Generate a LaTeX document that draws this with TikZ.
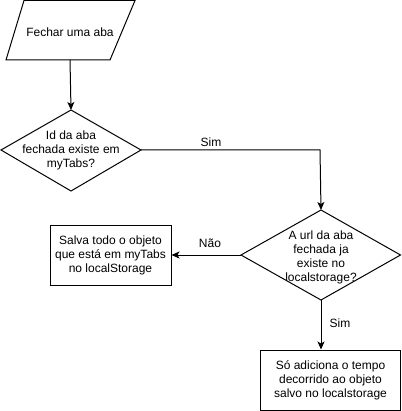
\documentclass[tikz,border=0pt]{standalone}
\usepackage{fontspec}
\setmainfont{Liberation Sans}
\usetikzlibrary{shapes.geometric,arrows.meta}
\begin{document}
\begin{tikzpicture}[x=1pt,y=-1pt,
  every node/.style={font=\fontsize{12}{14}\selectfont, inner sep=0pt, align=center},
  shp/.style={draw, line width=1pt},
  conn/.style={line width=1pt, -{Stealth[length=8pt,width=7pt,inset=2pt]}},
  lbl/.style={font=\fontsize{12}{14}\selectfont}]
\useasboundingbox (0,0) rectangle (401,411);
% parallelogram
\coordinate (p1) at (24,0.5);
\coordinate (p2) at (135,0.5);
\coordinate (p3) at (110,60);
\coordinate (p4) at (6,60);
\draw[shp] (p1) -- (p2) -- (p3) -- (p4) -- cycle;
\node (start) at (70,32) {Fechar uma aba};
\coordinate (startb) at (70,60);
% diamond 1
\coordinate (d1t) at (71,110);
\coordinate (d1r) at (141,150);
\coordinate (d1b) at (71,191);
\coordinate (d1l) at (1,150);
\draw[shp] (d1t) -- (d1r) -- (d1b) -- (d1l) -- cycle;
\node (d1) at (71,150) {Id da aba\\fechada existe em\\myTabs?};
% diamond 2
\coordinate (d2t) at (321,210);
\coordinate (d2r) at (400.5,255);
\coordinate (d2b) at (321,300);
\coordinate (d2l) at (241,255);
\draw[shp] (d2t) -- (d2r) -- (d2b) -- (d2l) -- cycle;
\node (d2) at (321,257) {A url da aba\\fechada ja\\existe no\\localstorage?};
% box left
\node[shp, minimum width=121pt, minimum height=60pt] (b1) at (110.5,255) {Salva todo o objeto\\que está em myTabs\\no localStorage};
% box bottom
\node[shp, minimum width=140pt, minimum height=60pt] (b2) at (330.5,380) {Só adiciona o tempo\\decorrido ao objeto\\salvo no localstorage};
% connectors
\draw[conn] (startb) -- (d1t);
\draw[conn] (d1r) -- (320,150) -- (d2t);
\draw[conn] (d2l) -- (b1.east);
\draw[conn] (d2b) -- (b2.north -| d2b);
% labels
\node[lbl] (s1) at (211,142) {Sim};
\node[lbl] (n1) at (210,243) {Não};
\node[lbl] (s2) at (340,323) {Sim};
\end{tikzpicture}
\end{document}
